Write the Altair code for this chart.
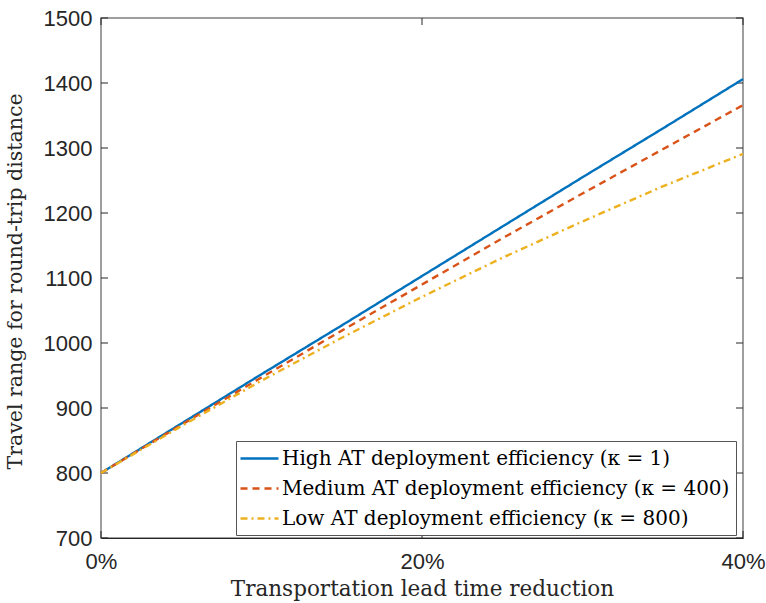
import altair as alt
import pandas as pd

# ---- data ----
x_pct = [0, 5, 10, 15, 20, 25, 30, 35, 40]
high = [800, 876, 952, 1027, 1103, 1179, 1255, 1330, 1406]
medium = [800, 874, 947, 1019, 1090, 1161, 1230, 1298, 1366]
low = [800, 872, 942, 1008, 1071, 1131, 1187, 1241, 1291]
series_names = [
    "High AT deployment efficiency (κ = 1)",
    "Medium AT deployment efficiency (κ = 400)",
    "Low AT deployment efficiency (κ = 800)",
]
series_colors = ["#0072BD", "#D95319", "#EDB120"]
series_dashes = [[1, 0], [7, 5], [7, 4, 2, 4]]
y_ticks = [700, 800, 900, 1000, 1100, 1200, 1300, 1400, 1500]
x_ticks = [0, 20, 40]

X_TITLE = "Transportation lead time reduction"
Y_TITLE = "Travel range for round-trip distance"

rows = []
for name, vals in zip(series_names, [high, medium, low]):
    for xv, yv in zip(x_pct, vals):
        rows.append({"x": xv, "y": yv, "series": name})
df = pd.DataFrame(rows)
ydf = pd.DataFrame({"y": y_ticks})
xdf = pd.DataFrame({"x": x_ticks})

W, H = 642, 520
TICK = 7
INK = "#262626"

xscale = alt.Scale(domain=[0, 40], nice=False, zero=False)
yscale = alt.Scale(domain=[700, 1500], nice=False, zero=False)

x_axis = alt.Axis(
    values=x_ticks, labelExpr="datum.value + '%'", ticks=False, tickSize=0,
    grid=False, labelPadding=13, labelFlush=False, labelOverlap=False,
    labelFont="Liberation Sans", labelFontSize=22, labelColor=INK,
    domainColor=INK, domainWidth=1.2,
    titleFont="DejaVu Serif", titleFontSize=21.5, titleFontWeight="normal",
    titleColor=INK, titleBaseline="alphabetic", titleY=57, titleX=W / 2,
    titleAlign="center",
)
y_axis = alt.Axis(
    values=y_ticks, format="d", ticks=False, tickSize=0, grid=False,
    labelPadding=9, labelFont="Liberation Sans", labelFontSize=22,
    labelColor=INK, domain=False,
    titleFont="DejaVu Serif", titleFontSize=20.5, titleFontWeight="normal",
    titleColor=INK, titleAngle=270, titleBaseline="alphabetic",
    titleX=-80, titleY=H / 2 + 3, titleAlign="center",
)

legend = alt.Legend(
    title=None, orient="none", legendX=135, legendY=423,
    fillColor="white", strokeColor="#555555",
    padding=6, rowPadding=8, cornerRadius=0,
    symbolType="M-1.3,0H2.5", symbolSize=400, symbolStrokeWidth=2.4,
    symbolFillColor="transparent",
    labelFont="DejaVu Serif", labelFontSize=20, labelColor="#000000",
    labelOffset=17, labelLimit=0,
)

lines = alt.Chart(df).mark_line(strokeWidth=2.4).encode(
    x=alt.X("x:Q", scale=xscale, axis=x_axis, title=X_TITLE),
    y=alt.Y("y:Q", scale=yscale, axis=y_axis, title=Y_TITLE),
    color=alt.Color("series:N", scale=alt.Scale(domain=series_names, range=series_colors),
                    legend=legend),
    strokeDash=alt.StrokeDash("series:N", scale=alt.Scale(domain=series_names, range=series_dashes),
                              legend=legend),
)

ytick_l = alt.Chart(ydf).mark_rule(color=INK, strokeWidth=1).encode(
    y=alt.Y("y:Q", scale=yscale, title=Y_TITLE), x=alt.value(0), x2=alt.value(TICK))
ytick_r = alt.Chart(ydf).mark_rule(color=INK, strokeWidth=1).encode(
    y=alt.Y("y:Q", scale=yscale, title=Y_TITLE), x=alt.value(W - TICK), x2=alt.value(W))
xtick_b = alt.Chart(xdf).mark_rule(color=INK, strokeWidth=1).encode(
    x=alt.X("x:Q", scale=xscale, title=X_TITLE), y=alt.value(H - TICK), y2=alt.value(H))
xtick_t = alt.Chart(xdf).mark_rule(color=INK, strokeWidth=1).encode(
    x=alt.X("x:Q", scale=xscale, title=X_TITLE), y=alt.value(0), y2=alt.value(TICK))

chart = alt.layer(ytick_l, ytick_r, xtick_b, xtick_t, lines).properties(
    width=W, height=H,
    autosize=alt.AutoSizeParams(type="none"),
    padding={"left": 101, "top": 18, "right": 23, "bottom": 65},
    background="white",
).configure_view(stroke="#7f7f7f", strokeWidth=1.5)

chart.save("out.html", embed_options={"renderer": "svg", "actions": False})
